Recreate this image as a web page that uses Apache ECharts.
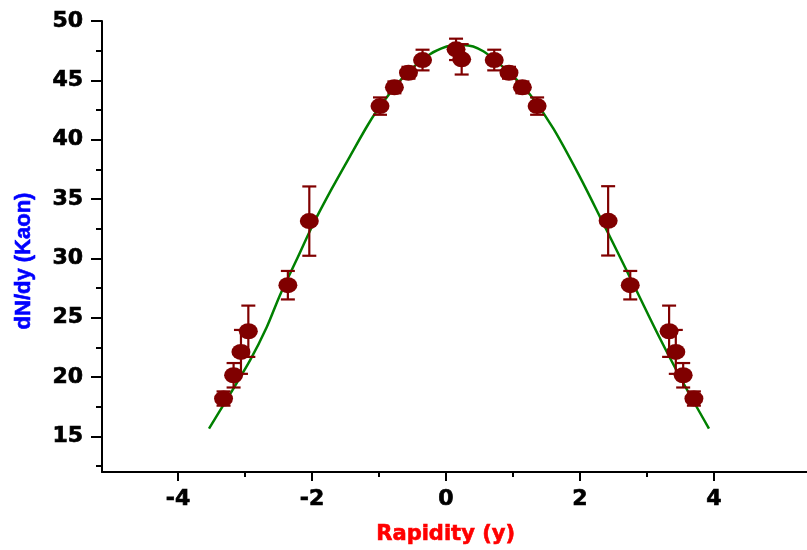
<!DOCTYPE html>
<html>
<head>
<meta charset="utf-8">
<script src="https://cdn.jsdelivr.net/npm/echarts@6/dist/echarts.min.js"></script>
<style>html,body{margin:0;padding:0;background:#fff;}#chart{width:807px;height:550px;}</style>
</head>
<body>
<div id="chart"></div>
<script>
// ---- data ----
const xTickLabels = [-4, -2, 0, 2, 4];
const xMinorTicks = [-3, -1, 1, 3];
const yTickLabels = [15, 20, 25, 30, 35, 40, 45, 50];
const yMinorTicks = [12.5, 17.5, 22.5, 27.5, 32.5, 37.5, 42.5, 47.5];

const rapidity = [-3.32, -3.17, -3.06, -2.95, -2.36, -2.04, -0.985, -0.77, -0.56, -0.35, 0.15, 0.234,
                  0.72, 0.94, 1.14, 1.36, 2.42, 2.75, 3.33, 3.43, 3.54, 3.70];
const dNdy = [18.19, 20.15, 22.12, 23.86, 27.74, 33.14, 42.83, 44.41, 45.64, 46.71, 47.61, 46.77,
              46.71, 45.64, 44.41, 42.83, 33.16, 27.74, 23.86, 22.12, 20.15, 18.19];
const dNdyErr = [0.6, 1.03, 1.85, 2.16, 1.2, 2.92, 0.73, 0.5, 0.5, 0.87, 0.9, 1.28,
                 0.87, 0.5, 0.5, 0.73, 2.92, 1.2, 2.16, 1.85, 1.03, 0.6];

const fitX = [-3.537, -3.273, -2.925, -2.676, -2.478, -2.228, -1.981, -1.706, -1.433, -1.160, -0.960,
              -0.60, -0.239, 0.010, 0.16, 0.258, 0.557, 0.98, 1.254, 1.601, 2.0, 2.299, 2.672, 2.846,
              3.194, 3.542, 3.925];
const fitY = [15.66, 18.1, 21.4, 24.2, 26.9, 29.9, 32.9, 35.85, 38.6, 41.3, 43.0,
              45.5, 47.2, 47.85, 47.98, 47.98, 47.45, 45.45, 43.8, 40.95, 36.85, 33.5, 29.25, 27.25,
              23.25, 19.5, 15.66];

// ---- chart ----
const chart = echarts.init(document.getElementById('chart'), null, {renderer: 'canvas'});
const dark = '#800000';
const tickFont = {fontFamily: 'DejaVu Sans', fontWeight: 'bold', fontSize: 22, color: '#000',
                  textBorderColor: '#000', textBorderWidth: 0.7};

const option = {
  animation: false,
  backgroundColor: '#fff',
  grid: {left: 102, right: 0, top: 21, bottom: 78, containLabel: false},
  xAxis: [{
    type: 'value', min: -5.134, max: 5.388,
    axisLine: {show: true, onZero: false, lineStyle: {color: '#000', width: 2}},
    axisTick: {show: true, customValues: xTickLabels, length: 9, lineStyle: {color: '#000', width: 2}},
    axisLabel: Object.assign({customValues: xTickLabels, margin: 16}, tickFont),
    splitLine: {show: false}
  }, {
    type: 'value', min: -5.134, max: 5.388, position: 'bottom',
    axisLine: {show: false, onZero: false},
    axisTick: {show: true, customValues: xMinorTicks, length: 5, lineStyle: {color: '#000', width: 2}},
    axisLabel: {show: false},
    splitLine: {show: false}
  }],
  yAxis: [{
    type: 'value', min: 12, max: 50,
    axisLine: {show: true, onZero: false, lineStyle: {color: '#000', width: 2}},
    axisTick: {show: true, customValues: yTickLabels, length: 11, lineStyle: {color: '#000', width: 2}},
    axisLabel: Object.assign({customValues: yTickLabels, margin: 19}, tickFont),
    splitLine: {show: false}
  }, {
    type: 'value', min: 12, max: 50, position: 'left',
    axisLine: {show: false, onZero: false},
    axisTick: {show: true, customValues: yMinorTicks, length: 6, lineStyle: {color: '#000', width: 2}},
    axisLabel: {show: false},
    splitLine: {show: false}
  }],
  graphic: [{
    type: 'text', left: 446 - 70, top: 524,
    style: {text: 'Rapidity (y)', fill: '#ff0000', font: 'bold 21px "DejaVu Sans"',
            stroke: '#ff0000', lineWidth: 0.6}
  }, {
    type: 'text', x: 24, y: 261, rotation: Math.PI / 2,
    style: {text: 'dN/dy (Kaon)', fill: '#0000ff', font: 'bold 22px "Liberation Sans"',
            stroke: '#0000ff', lineWidth: 0.6, align: 'center', verticalAlign: 'middle'}
  }],
  series: [{
    type: 'line', name: 'fit', xAxisIndex: 0, yAxisIndex: 0,
    data: fitX.map((x, i) => [x, fitY[i]]),
    showSymbol: false, smooth: 0.3,
    lineStyle: {color: '#008000', width: 2.5}, z: 1
  }, {
    type: 'custom', name: 'err', xAxisIndex: 0, yAxisIndex: 0,
    data: rapidity.map((x, i) => [x, dNdy[i], dNdyErr[i]]),
    renderItem: function (params, api) {
      const x = api.value(0), y = api.value(1), e = api.value(2);
      const t = api.coord([x, y + e]);
      const b = api.coord([x, y - e]);
      const hw = 7;
      const st = {stroke: dark, lineWidth: 2.2};
      return {type: 'group', children: [
        {type: 'line', shape: {x1: t[0], y1: t[1], x2: b[0], y2: b[1]}, style: st},
        {type: 'line', shape: {x1: t[0] - hw, y1: t[1], x2: t[0] + hw, y2: t[1]}, style: st},
        {type: 'line', shape: {x1: b[0] - hw, y1: b[1], x2: b[0] + hw, y2: b[1]}, style: st}
      ]};
    },
    z: 2
  }, {
    type: 'scatter', name: 'data', xAxisIndex: 0, yAxisIndex: 0,
    data: rapidity.map((x, i) => [x, dNdy[i]]),
    symbol: 'circle', symbolSize: [19, 16],
    itemStyle: {color: dark, opacity: 1}, z: 3
  }]
};
chart.setOption(option);
</script>
</body>
</html>
